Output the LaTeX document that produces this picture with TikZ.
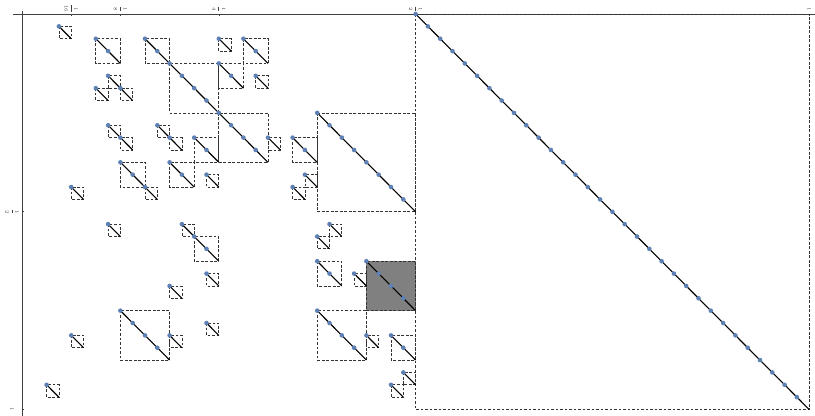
\documentclass[tikz,border=0pt]{standalone}
\definecolor{dotblue}{rgb}{0.368,0.507,0.710}
\begin{document}
\begin{tikzpicture}[x=12.3bp,y=-12.36bp,
  box/.style={draw=black!80, line width=0.75bp, dash pattern=on 2.8bp off 1.7bp},
  diag/.style={draw=black, line width=1.1bp},
  dotfill/.style={fill=dotblue},
  axisline/.style={draw=black!75, line width=0.6bp},
  ticklab/.style={font=\fontsize{4.6}{5}\selectfont, text=black!75, rotate=-90, inner sep=0pt}
]
\useasboundingbox (-1.7886,-1.1327) rectangle (64.4715,32.5243);
% axes
\draw[axisline] (-0.732,0) -- (64.4715,0);
\draw[axisline] (0,-0.24) -- (0,32.5243);
\foreach \t/\l in {4/{\frac{1}{16}},8/{\frac{1}{8}},16/{\frac{1}{4}},32/{\frac{1}{2}}}{
  \draw[axisline] (\t,0) -- (\t,0.2);
  \node[ticklab] (tx\t) at (\t,-0.42) {$\displaystyle\l$};
}
\draw[axisline] (64,0) -- (64,0.2);
\node[ticklab] (tx64) at (64,-0.42) {$1$};
\draw[axisline] (0,16) -- (0.2,16);
\node[ticklab] (ty16) at (-0.81,16) {$\displaystyle\frac{1}{2}$};
\draw[axisline] (0,32) -- (0.2,32);
\node[ticklab] (ty32) at (-0.81,32) {$1$};
% gray block
\fill[black!50] (28,20) rectangle ++(4,4);
% segments x/y/n
\def\seglist{3/1/1, 6/2/2, 10/2/2, 12/4/4, 16/8/4, 16/2/1, 18/2/2, 16/4/2, 19/5/1, 7/5/1, 6/6/1, 8/6/1, 7/9/1, 8/10/1, 11/9/1, 12/10/1, 14/10/2, 20/10/1, 22/10/2, 24/8/8, 23/13/1, 22/14/1, 8/12/2, 10/14/1, 12/12/2, 15/13/1, 4/14/1, 32/0/32, 25/17/1, 24/18/1, 7/17/1, 13/17/1, 14/18/2, 24/20/2, 27/21/1, 28/20/4, 15/21/1, 12/22/1, 8/24/4, 12/26/1, 15/25/1, 4/26/1, 24/24/4, 28/26/1, 30/26/2, 31/29/1, 30/30/1, 2/30/1}
\foreach \sx/\sy/\sn in \seglist{
  \draw[box] (\sx,\sy) rectangle ++(\sn,\sn);
}
\foreach \sx/\sy/\sn in \seglist{
  \draw[diag] (\sx,\sy) -- ++(\sn,\sn);
}
\foreach \sx/\sy/\sn in \seglist{
  \pgfmathtruncatemacro\slast{\sn-1}
  \foreach \i in {0,...,\slast}{
    \fill[dotfill] (\sx+\i,\sy+\i) circle (2.3bp);
  }
}
\end{tikzpicture}
\end{document}
